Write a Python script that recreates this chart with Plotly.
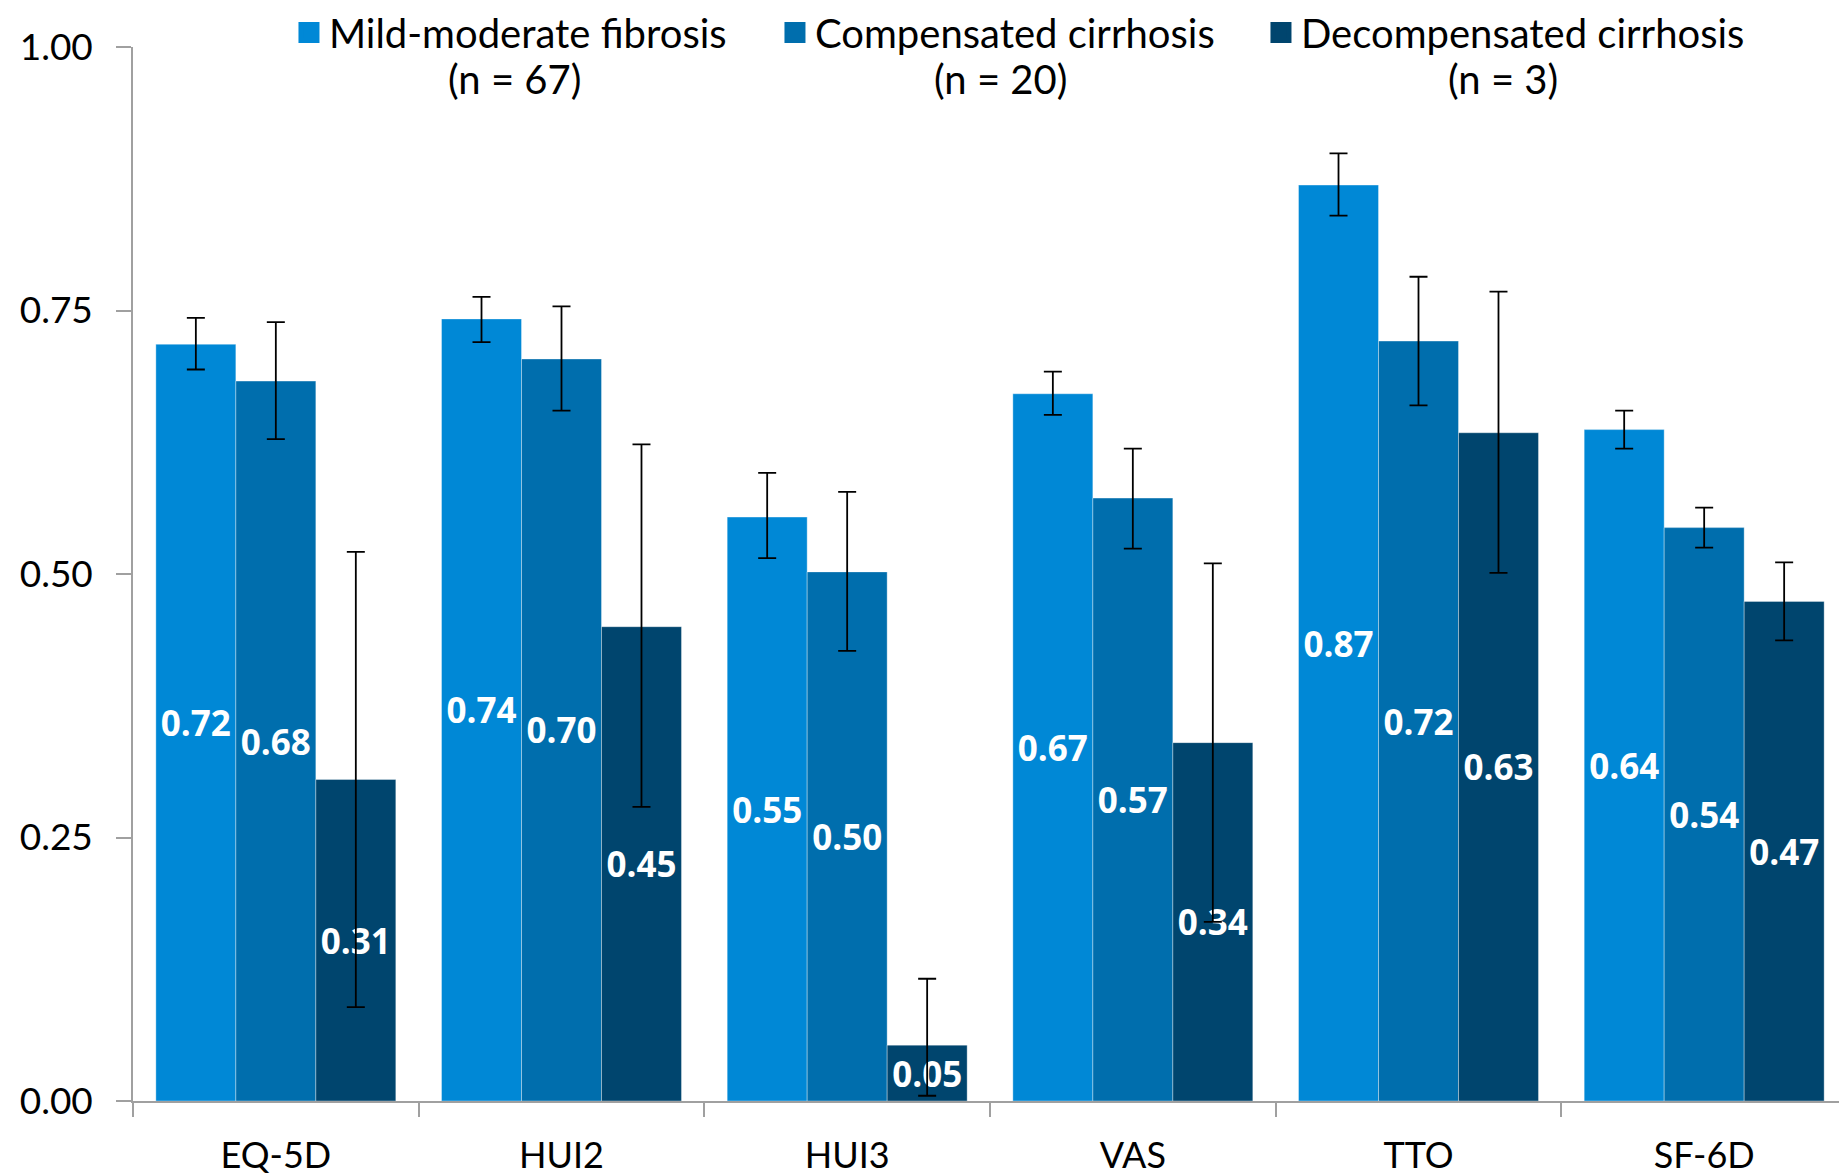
import plotly.graph_objects as go

categories = ["EQ-5D", "HUI2", "HUI3", "VAS", "TTO", "SF-6D"]
series_names = ["Mild-moderate fibrosis", "Compensated cirrhosis", "Decompensated cirrhosis"]
series_n = ["(n = 67)", "(n = 20)", "(n = 3)"]

mild_mean = [0.72, 0.74, 0.55, 0.67, 0.87, 0.64]
mild_upper = [0.743, 0.763, 0.596, 0.692, 0.899, 0.655]
mild_lower = [0.694, 0.720, 0.515, 0.651, 0.840, 0.619]

comp_mean = [0.68, 0.70, 0.50, 0.57, 0.72, 0.54]
comp_upper = [0.739, 0.754, 0.578, 0.619, 0.782, 0.563]
comp_lower = [0.628, 0.655, 0.427, 0.524, 0.660, 0.525]

decomp_mean = [0.31, 0.45, 0.05, 0.34, 0.63, 0.47]
decomp_upper = [0.521, 0.623, 0.116, 0.510, 0.768, 0.511]
decomp_lower = [0.089, 0.279, 0.005, 0.170, 0.501, 0.437]

# plotted bar heights (labels show rounded values)
mild_bar = [0.718, 0.742, 0.554, 0.671, 0.869, 0.637]
comp_bar = [0.683, 0.704, 0.502, 0.572, 0.721, 0.544]
decomp_bar = [0.305, 0.450, 0.053, 0.340, 0.634, 0.474]

colors = ["#0088D6", "#006EAD", "#00456E"]

fig = go.Figure()
data = [
    (mild_bar, mild_mean, mild_upper, mild_lower),
    (comp_bar, comp_mean, comp_upper, comp_lower),
    (decomp_bar, decomp_mean, decomp_upper, decomp_lower),
]
for i, (bar, mean, up, lo) in enumerate(data):
    fig.add_trace(go.Bar(
        x=categories, y=bar, name=series_names[i], showlegend=False,
        legendgroup=series_names[i],
        marker=dict(color=colors[i], line=dict(color="rgba(255,255,255,0.35)", width=1)),
        text=[f"{v:.2f}" for v in mean],
        textposition="inside", insidetextanchor="middle", constraintext="none",
        textangle=0,
        textfont=dict(family="Open Sans", size=35, color="white", weight="bold"),
        error_y=dict(type="data", symmetric=False,
                     array=[u - b for u, b in zip(up, bar)],
                     arrayminus=[b - l for b, l in zip(bar, lo)],
                     color="black", thickness=1.8, width=9),
    ))
# legend entries (square swatches)
for i in range(3):
    fig.add_trace(go.Scatter(
        x=[None], y=[None], mode="markers", name=series_names[i],
        legendgroup=series_names[i], showlegend=True,
        marker=dict(symbol="square", size=16, color=colors[i],
                    line=dict(color=colors[i], width=8)),
    ))

# page body has an 8px margin: figure is sized/offset to compensate
fig.update_layout(
    width=1839, height=1167,
    margin=dict(l=125, r=0, t=39, b=74, autoexpand=False),
    paper_bgcolor="white", plot_bgcolor="white",
    barmode="group", bargap=0.16, bargroupgap=0,
    font=dict(family="Lato", size=36, color="black"),
    showlegend=True,
    legend=dict(orientation="h", x=0.091, xanchor="left", y=1.0445, yanchor="top",
                font=dict(family="Lato", size=40, color="black"),
                entrywidth=441, entrywidthmode="pixels",
                bgcolor="rgba(0,0,0,0)", traceorder="normal"),
)
for i, txt in enumerate(series_n):
    fig.add_annotation(text=txt, xref="paper", yref="paper",
                       x=[0.2223, 0.5064, 0.7993][i], y=0.9695,
                       xanchor="center", yanchor="middle", showarrow=False,
                       font=dict(family="Lato", size=40, color="black"))

fig.update_yaxes(range=[0, 1], dtick=0.25, tickformat=".2f", automargin=False,
                 showgrid=False, zeroline=False,
                 showline=True, linecolor="#A0A0A0", linewidth=1.5,
                 ticks="outside", ticklen=15, tickcolor="#A0A0A0", tickwidth=1.5,
                 ticklabelstandoff=16,
                 tickfont=dict(family="Lato", size=37, color="black"))
fig.update_xaxes(showgrid=False, showline=True, linecolor="#A0A0A0", linewidth=1.5,
                 automargin=False,
                 ticks="outside", ticklen=14, tickcolor="#A0A0A0", tickwidth=1.5,
                 tickson="boundaries", ticklabelstandoff=22,
                 tickfont=dict(family="Lato", size=36, color="black"))

fig.write_html("out.html")
